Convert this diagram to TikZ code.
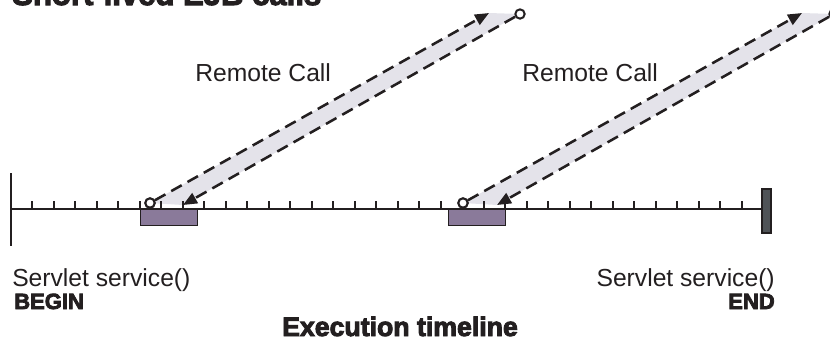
\documentclass[tikz,border=0pt]{standalone}
\usepackage{fontspec}
\setmainfont{Liberation Sans}
\newfontfamily\heavyfont{Liberation Sans}[BoldFeatures={FakeBold=3.5}]
\usetikzlibrary{arrows.meta}
\definecolor{bandgray}{HTML}{E4E3EA}
\definecolor{boxpurple}{HTML}{8A7A9A}
\definecolor{bargray}{HTML}{4F5357}
\definecolor{inkc}{HTML}{231F20}
\begin{document}
\begin{tikzpicture}[x=0.75pt,y=-0.75pt,
  dashline/.style={draw=inkc, line width=1.9pt, dash pattern=on 9pt off 5pt,
     -{Triangle[length=10.5pt,width=8.5pt]}},
  band/.style={fill=bandgray, draw=none},
  callbox/.style={fill=boxpurple, draw=inkc, line width=0.6pt},
  endpt/.style={circle, draw=inkc, fill=white, line width=1.5pt, minimum size=7pt, inner sep=0pt},
  axis/.style={draw=inkc, line width=1.5pt},
  tickmark/.style={draw=inkc, line width=1.5pt},
  endbar/.style={fill=bargray, draw=inkc, line width=1pt},
  plain/.style={font=\fontsize{18.5pt}{20pt}\selectfont, text=inkc, inner sep=0pt},
  heavy/.style={font=\heavyfont\bfseries\fontsize{16.5pt}{18pt}\selectfont, text=inkc, inner sep=0pt}
]
\clip (0,0) rectangle (830,343);

% shaded bands
\fill[band] (150,203) -- (489,13) -- (520,14) -- (183,205) -- cycle;
\fill[band] (463,203) -- (802,13) -- (834,14) -- (497,205) -- cycle;

% timeline
\coordinate (tlstart) at (11,209);
\coordinate (tlend) at (762,209);
\draw[axis] (tlstart) -- (tlend);
\draw[axis] (11,173) -- (11,246);
\foreach \k in {0,...,33} \draw[tickmark] (32+21.5*\k,209) -- ++(0,-8);
\draw[endbar] (762,189) rectangle (771,233);

% call boxes
\draw[callbox] (140,209) rectangle (197,225);
\draw[callbox] (448,209) rectangle (505,225);

% endpoints and arrow tips
\coordinate (out1) at (489,13);
\coordinate (in1) at (183,205);
\coordinate (out2) at (802,13);
\coordinate (in2) at (497,205);
\node[endpt] (s1) at (150,203) {};
\node[endpt] (r1) at (520,14) {};
\node[endpt] (s2) at (463,203) {};
\node[endpt] (r2) at (834,14) {};

\draw[dashline] (s1) -- (out1);
\draw[dashline] (r1) -- (in1);
\draw[dashline] (s2) -- (out2);
\draw[dashline] (r2) -- (in2);
\node[endpt] at (s1) {};
\node[endpt] at (s2) {};

% texts
\node[heavy, font=\heavyfont\bfseries\fontsize{23.3pt}{26pt}\selectfont, anchor=base west] (title) at (12,5) {Short-lived EJB calls};
\node[plain, anchor=base west] (rc1) at (195,81.7) {Remote Call};
\node[plain, anchor=base west] (rc2) at (522,81.7) {Remote Call};
\node[plain, anchor=base west] (sv1) at (12,286) {Servlet service()};
\node[plain, anchor=base east] (sv2) at (775,286) {Servlet service()};
\node[heavy, anchor=base west] (begin) at (14,309) {BEGIN};
\node[heavy, anchor=base east] (end) at (775,309) {END};
\node[heavy, font=\heavyfont\bfseries\fontsize{20pt}{22pt}\selectfont, anchor=base] (exec) at (400,336) {Execution timeline};
\end{tikzpicture}
\end{document}
